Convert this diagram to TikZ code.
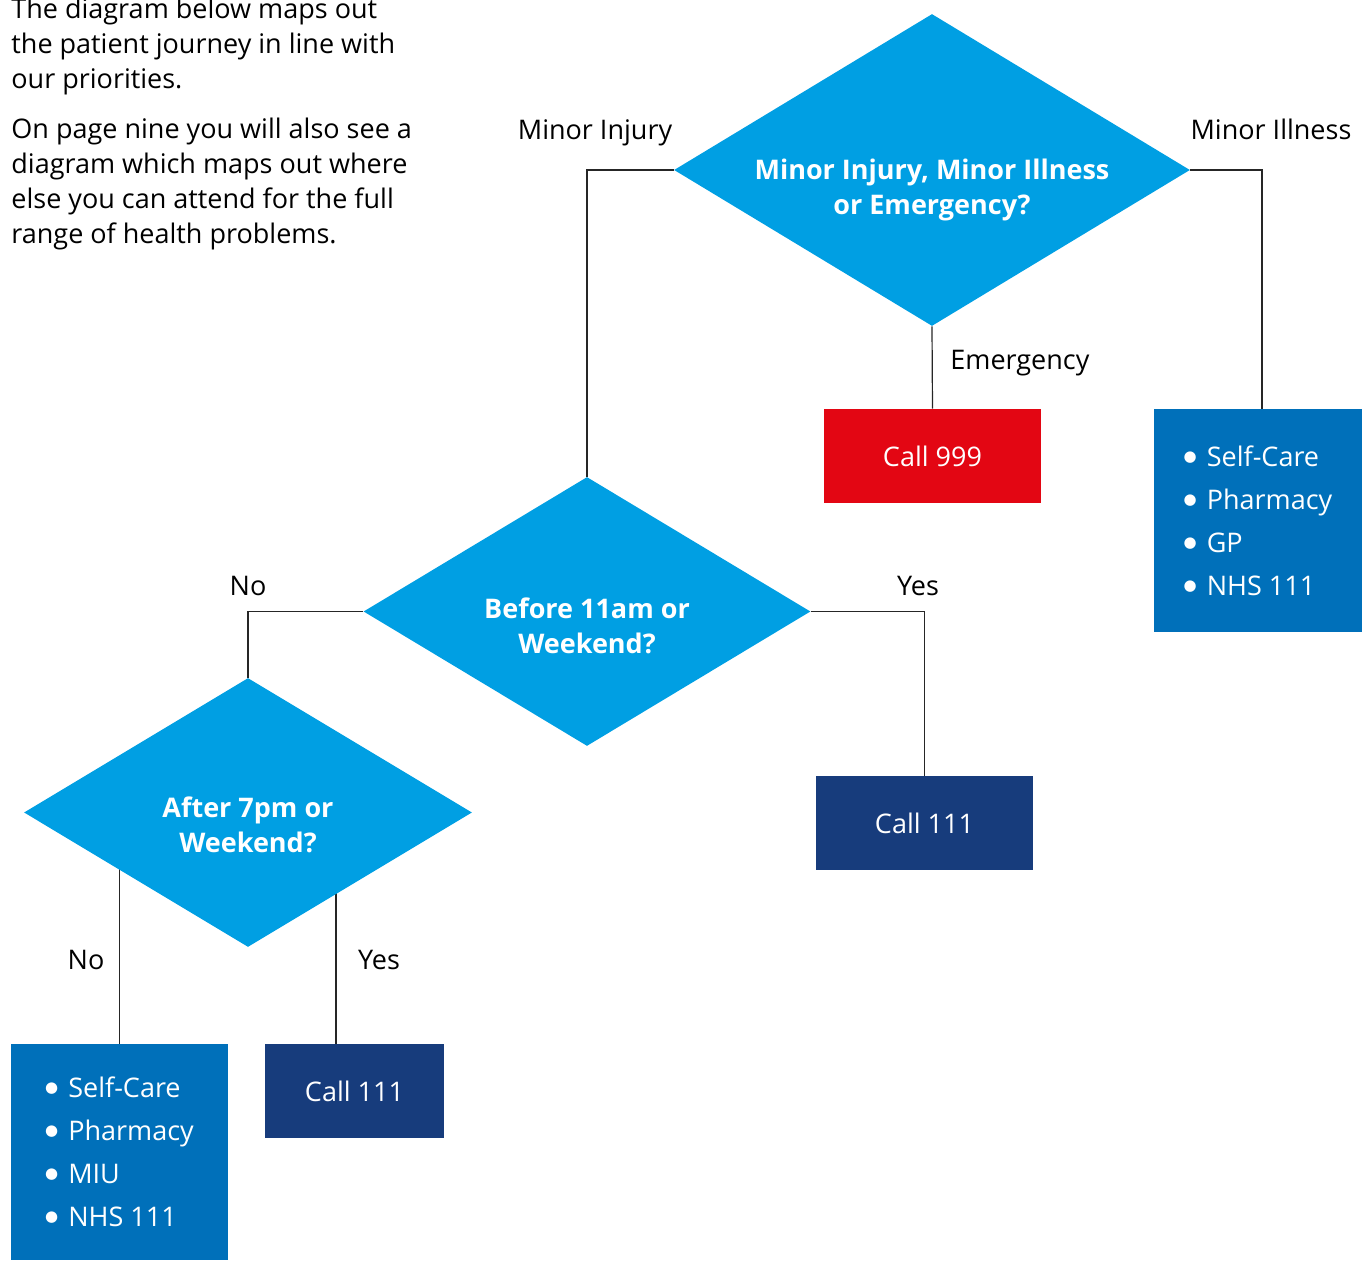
\documentclass[tikz,border=0pt]{standalone}
\usepackage{fontspec}
\setmainfont{Open Sans}
\newfontfamily\symfont{DejaVu Sans}
\usetikzlibrary{shapes.geometric,backgrounds}
\definecolor{nhscyan}{HTML}{009FE3}
\definecolor{nhsblue}{HTML}{0070BA}
\definecolor{nhsdark}{HTML}{173C7C}
\definecolor{nhsred}{HTML}{E30613}
\newcommand{\txtsize}{\fontsize{13.5}{17.5}\selectfont}
\newcommand{\blt}{\raisebox{2.5pt}{\symfont\fontsize{7.5}{7.5}\selectfont ●}\hspace{5pt}}
\tikzset{
	decision/.style={diamond, fill=nhscyan, inner sep=0pt, aspect=1.66},
	qtext/.style={text=white, font=\bfseries\txtsize, align=center},
	outcome/.style={rectangle, inner sep=0pt, text=white, font=\txtsize},
	listtext/.style={align=left, font=\fontsize{13.5}{21.5}\selectfont},
	lbl/.style={font=\txtsize, inner sep=0pt},
	conn/.style={line width=0.6pt, black!85}
}
\begin{document}
\begin{tikzpicture}[x=0.5pt, y=-0.5pt]
	\useasboundingbox (0,0) rectangle (1362,1261);
	% intro text
	\node[lbl, anchor=base west, align=left] (intro) at (11,89) {The diagram below maps out\\the patient journey in line with\\our priorities.};
	\node[lbl, anchor=base west, align=left] (intro2) at (11,244) {On page nine you will also see a\\diagram which maps out where\\else you can attend for the full\\range of health problems.};
	% decisions
	\node[decision, minimum width=258pt, minimum height=156pt,
		label={[qtext, yshift=-10pt]center:Minor Injury, Minor Illness\\or Emergency?}] (d1) at (932,170) {};
	\node[decision, minimum width=223.5pt, minimum height=134.5pt,
		label={[qtext, yshift=-7pt]center:Before 11am or\\Weekend?}] (d2) at (587,611.5) {};
	\node[decision, minimum width=224pt, minimum height=134.5pt,
		label={[qtext, yshift=-6.25pt]center:After 7pm or\\Weekend?}] (d3) at (248,812.5) {};
	% outcomes
	\node[outcome, fill=nhsred, minimum width=108.5pt, minimum height=47pt] (call999) at (932.5,456) {Call 999};
	\node[outcome, fill=nhsblue, minimum width=104pt, minimum height=111.5pt, listtext] (illness) at (1258,520.5)
		{\blt Self-Care\\\blt Pharmacy\\\blt GP\\\blt NHS 111};
	\node[outcome, fill=nhsdark, minimum width=108.5pt, minimum height=47pt] (call111a) at (924.5,823) {Call 111};
	\node[outcome, fill=nhsblue, minimum width=108.5pt, minimum height=108pt, listtext] (injury) at (119.5,1152)
		{\blt Self-Care\\\blt Pharmacy\\\blt MIU\\\blt NHS 111};
	\node[outcome, fill=nhsdark, minimum width=89.5pt, minimum height=47pt] (call111b) at (354.5,1091) {Call 111};
	% connectors
	\begin{scope}[on background layer]
		\draw[conn] (d1.west) -| (d2.north);
		\draw[conn] (d1.east) -| ([xshift=2pt]illness.north);
		\draw[conn] (d1.south) -- (call999.north);
		\draw[conn] (d2.west) -| (d3.north);
		\draw[conn] (d2.east) -| (call111a.north);
		\draw[conn] (injury.north) -- (injury.north |- d3.center);
		\draw[conn] ([xshift=-9.25pt]call111b.north) -- ++(0,-200);
	\end{scope}
	% labels
	\node[lbl, anchor=base] (lminj) at (595,140) {Minor Injury};
	\node[lbl, anchor=base] (lminill) at (1271,140) {Minor Illness};
	\node[lbl, anchor=base west] (lemerg) at (950,370) {Emergency};
	\node[lbl, anchor=base] (lno1) at (248,596) {No};
	\node[lbl, anchor=base] (lyes1) at (918,596) {Yes};
	\node[lbl, anchor=base] (lno2) at (86,970) {No};
	\node[lbl, anchor=base] (lyes2) at (379,970) {Yes};
\end{tikzpicture}
\end{document}
